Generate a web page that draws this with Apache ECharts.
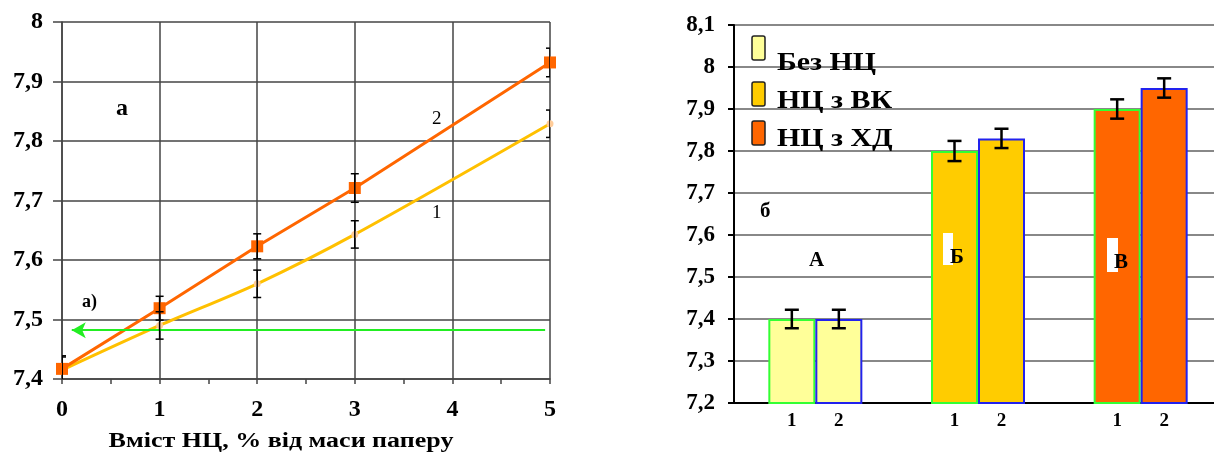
<!DOCTYPE html>
<html><head><meta charset="utf-8">
<script src="https://cdn.jsdelivr.net/npm/echarts@6/dist/echarts.min.js"></script>
<style>html,body{margin:0;padding:0;background:#fff}#c{width:1214px;height:456px}</style>
</head><body><div id="c"></div>
<script>
// ---- Left chart data (a) ----
const lineX = [0, 1, 2, 3, 5];
const curve1 = [7.415, 7.49, 7.56, 7.643, 7.829];   // 1 (yellow)
const curve2 = [7.417, 7.519, 7.623, 7.721, 7.932]; // 2 (orange)
const err1 = [0.022, 0.023, 0.023, 0.023, 0.023];
const err2 = [0.022, 0.020, 0.021, 0.024, 0.024];
const thresholdY = 7.482;
const thresholdFrom = 4.95;
const thresholdTo = 0.1;
const leftXTitle = 'Вміст НЦ, % від маси паперу';

// ---- Right chart data (б) ----
const groups = ['А', 'Б', 'В'];
const bar1 = [7.4, 7.8, 7.9];
const bar2 = [7.4, 7.83, 7.95];
const barErr1 = [0.022, 0.024, 0.023];
const barErr2 = [0.022, 0.023, 0.023];
const legendNames = ['Без НЦ', 'НЦ з ВК', 'НЦ з ХД'];
const groupColors = ['#FFFF99', '#FFCC00', '#FF6600'];

const F = "'Liberation Serif','Times New Roman',serif";
const BAR_W = 47;
const fmt = v => String(+(+v).toFixed(1)).replace('.', ',');

function errRender(capHalf, lw, offset) {
  return function (params, api) {
    const x = api.value(0), lo = api.value(1), hi = api.value(2);
    const off = offset ? offset(api) : 0;
    const p1 = api.coord([x, hi]), p2 = api.coord([x, lo]);
    const cx = p1[0] + off;
    const st = { stroke: '#000', lineWidth: lw };
    return { type: 'group', children: [
      { type: 'line', shape: { x1: cx, y1: p1[1], x2: cx, y2: p2[1] }, style: st },
      { type: 'line', shape: { x1: cx - capHalf, y1: p1[1], x2: cx + capHalf, y2: p1[1] }, style: st },
      { type: 'line', shape: { x1: cx - capHalf, y1: p2[1], x2: cx + capHalf, y2: p2[1] }, style: st }
    ]};
  };
}

const chart = echarts.init(document.getElementById('c'));
const option = {
  animation: false,
  backgroundColor: '#fff',
  grid: [
    { left: 62, top: 22, width: 488, height: 357, outerBoundsMode: 'none' },
    { left: 734, top: 25, width: 488, height: 378, outerBoundsMode: 'none' }
  ],
  xAxis: [
    { type: 'value', gridIndex: 0, min: 0, max: 5, interval: 1,
      axisLine: { show: true, lineStyle: { color: '#444', width: 1.5 } },
      axisTick: { show: true, length: 5, lineStyle: { color: '#444', width: 1.5 } },
      minorTick: { show: true, splitNumber: 2, length: 5, lineStyle: { color: '#444', width: 1.5 } },
      splitLine: { show: true, lineStyle: { color: '#444', width: 1.5 } },
      axisLabel: { fontFamily: F, fontWeight: 'bold', fontSize: 24, color: '#000', margin: 19 }
    },
    { type: 'category', gridIndex: 1, data: groups,
      axisLine: { show: true, lineStyle: { color: '#000', width: 2 } },
      axisTick: { show: false }, axisLabel: { show: false }, splitLine: { show: false }
    }
  ],
  yAxis: [
    { type: 'value', gridIndex: 0, min: 7.4, max: 8, interval: 0.1,
      axisLine: { show: true, lineStyle: { color: '#444', width: 1.5 } },
      axisTick: { show: true, length: 9, lineStyle: { color: '#444', width: 1.5 } },
      splitLine: { show: true, lineStyle: { color: '#444', width: 1.5 } },
      axisLabel: { fontFamily: F, fontWeight: 'bold', fontSize: 24, color: '#000', margin: 19, formatter: fmt }
    },
    { type: 'value', gridIndex: 1, min: 7.2, max: 8.1, interval: 0.1,
      axisLine: { show: true, lineStyle: { color: '#000', width: 2 } },
      axisTick: { show: true, length: 6, lineStyle: { color: '#000', width: 2 } },
      splitLine: { show: true, lineStyle: { color: '#888', width: 2 } },
      axisLabel: { fontFamily: F, fontWeight: 'bold', fontSize: 23, color: '#000', margin: 19, formatter: fmt }
    }
  ],
  series: [
    { type: 'line', name: '1', xAxisIndex: 0, yAxisIndex: 0, smooth: 0.3,
      data: lineX.map((x, i) => [x, curve1[i]]),
      lineStyle: { color: '#FFC000', width: 3 },
      itemStyle: { color: '#FFCC99' }, symbol: 'circle', symbolSize: 7, z: 3,
      markLine: { silent: true, symbol: ['none', 'arrow'], symbolSize: [12, 14],
        lineStyle: { color: '#22EE22', width: 2, type: 'solid' }, label: { show: false },
        data: [[{ coord: [thresholdFrom, thresholdY] }, { coord: [thresholdTo, thresholdY] }]] }
    },
    { type: 'line', name: '2', xAxisIndex: 0, yAxisIndex: 0,
      data: lineX.map((x, i) => [x, curve2[i]]),
      lineStyle: { color: '#FF6600', width: 3 },
      itemStyle: { color: '#FF6600' }, symbol: 'rect', symbolSize: 12, z: 4
    },
    { type: 'custom', xAxisIndex: 0, yAxisIndex: 0, clip: true, z: 5,
      renderItem: errRender(4, 1.5),
      encode: { x: 0, y: [1, 2] },
      data: lineX.map((x, i) => [x, curve1[i] - err1[i], curve1[i] + err1[i]])
    },
    { type: 'custom', xAxisIndex: 0, yAxisIndex: 0, clip: true, z: 5,
      renderItem: errRender(4, 1.5),
      encode: { x: 0, y: [1, 2] },
      data: lineX.map((x, i) => [x, curve2[i] - err2[i], curve2[i] + err2[i]])
    },
    { type: 'bar', name: '1', xAxisIndex: 1, yAxisIndex: 1, barWidth: BAR_W, barGap: '0%',
      data: bar1,
      itemStyle: { color: p => groupColors[p.dataIndex], borderColor: '#33FF33', borderWidth: 2 },
      label: { show: true, position: 'bottom', distance: 8, formatter: '1',
        fontFamily: F, fontWeight: 'bold', fontSize: 19, color: '#000' }
    },
    { type: 'bar', name: '2', xAxisIndex: 1, yAxisIndex: 1, barWidth: BAR_W, barGap: '0%',
      data: bar2,
      itemStyle: { color: p => groupColors[p.dataIndex], borderColor: '#2222EE', borderWidth: 2 },
      label: { show: true, position: 'bottom', distance: 8, formatter: '2',
        fontFamily: F, fontWeight: 'bold', fontSize: 19, color: '#000' }
    },
    { type: 'custom', xAxisIndex: 1, yAxisIndex: 1, z: 5,
      renderItem: errRender(7, 2.5, () => -BAR_W / 2),
      encode: { x: 0, y: [1, 2] },
      data: groups.map((g, i) => [i, bar1[i] - barErr1[i], bar1[i] + barErr1[i]])
    },
    { type: 'custom', xAxisIndex: 1, yAxisIndex: 1, z: 5,
      renderItem: errRender(7, 2.5, () => BAR_W / 2),
      encode: { x: 0, y: [1, 2] },
      data: groups.map((g, i) => [i, bar2[i] - barErr2[i], bar2[i] + barErr2[i]])
    }
  ],
  graphic: [
    // left axis title
    { type: 'text', x: 281, y: 442, scaleX: 1.3, z: 10,
      style: { x: 0, y: 0, text: leftXTitle, font: 'bold 20px ' + F, fill: '#000', textAlign: 'center', textVerticalAlign: 'middle' } },
    // left annotations
    { type: 'text', left: 116, top: 97, z: 10, style: { text: 'а', font: 'bold 24px ' + F, fill: '#000' } },
    { type: 'text', left: 82, top: 293, z: 10, style: { text: 'а)', font: 'bold 18px ' + F, fill: '#000' } },
    { type: 'text', left: 432, top: 110, z: 10, style: { text: '2', font: '19px ' + F, fill: '#000' } },
    { type: 'text', left: 432, top: 204, z: 10, style: { text: '1', font: '19px ' + F, fill: '#000' } },
    // right legend
    { type: 'rect', shape: { x: 752, y: 36, width: 13, height: 24, r: 2 }, z: 10, style: { fill: groupColors[0], stroke: '#222', lineWidth: 1.5 } },
    { type: 'rect', shape: { x: 752, y: 82, width: 13, height: 24, r: 2 }, z: 10, style: { fill: groupColors[1], stroke: '#222', lineWidth: 1.5 } },
    { type: 'rect', shape: { x: 752, y: 121, width: 13, height: 24, r: 2 }, z: 10, style: { fill: groupColors[2], stroke: '#222', lineWidth: 1.5 } },
    { type: 'text', x: 777, y: 63, scaleX: 1.15, z: 10, style: { x: 0, y: 0, text: legendNames[0], font: 'bold 26px ' + F, fill: '#000', textVerticalAlign: 'middle' } },
    { type: 'text', x: 777, y: 101, scaleX: 1.15, z: 10, style: { x: 0, y: 0, text: legendNames[1], font: 'bold 26px ' + F, fill: '#000', textVerticalAlign: 'middle' } },
    { type: 'text', x: 777, y: 139, scaleX: 1.15, z: 10, style: { x: 0, y: 0, text: legendNames[2], font: 'bold 26px ' + F, fill: '#000', textVerticalAlign: 'middle' } },
    // right annotations
    { type: 'text', left: 760, top: 201, z: 10, style: { text: 'б', font: 'bold 21px ' + F, fill: '#000' } },
    { type: 'text', left: 809, top: 250, z: 10, style: { text: groups[0], font: 'bold 21px ' + F, fill: '#000' } },
    { type: 'rect', shape: { x: 943, y: 233, width: 10, height: 32 }, z: 9, style: { fill: '#fff' } },
    { type: 'text', left: 950, top: 247, z: 10, style: { text: groups[1], font: 'bold 21px ' + F, fill: '#000' } },
    { type: 'rect', shape: { x: 1107, y: 238, width: 11, height: 34 }, z: 9, style: { fill: '#fff' } },
    { type: 'text', left: 1114, top: 252, z: 10, style: { text: groups[2], font: 'bold 21px ' + F, fill: '#000' } }
  ]
};
chart.setOption(option);
</script>
</body></html>
